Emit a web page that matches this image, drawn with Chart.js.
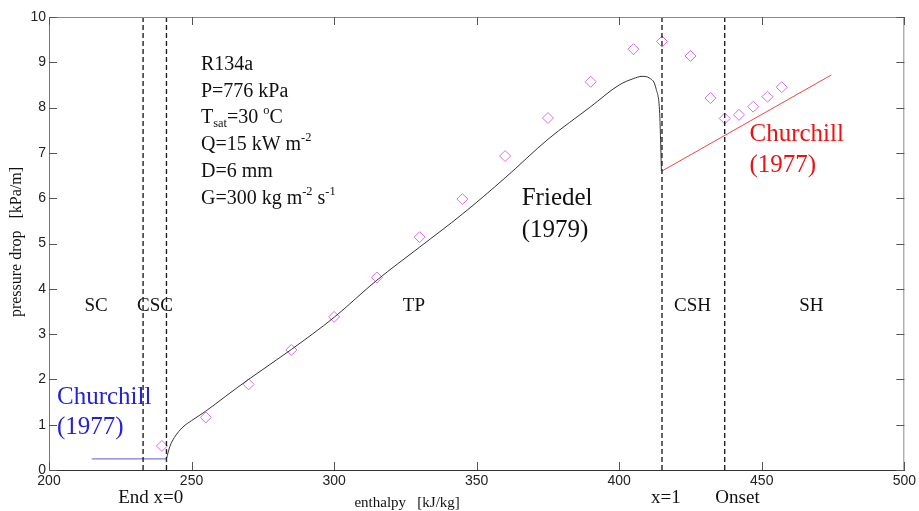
<!DOCTYPE html>
<html>
<head>
<meta charset="utf-8">
<script src="https://cdn.jsdelivr.net/npm/chart.js@4.4.1/dist/chart.umd.min.js"></script>
<style>
  html, body { margin: 0; padding: 0; background: #fff; }
  #wrap { width: 919px; height: 511px; position: relative; }
</style>
</head>
<body>
<div id="wrap"><canvas id="c"></canvas></div>
<script>
// ---------- data ----------
const xTicks = [200, 250, 300, 350, 400, 450, 500];
const yTicks = [0, 1, 2, 3, 4, 5, 6, 7, 8, 9, 10];

// measured points (diamonds)
const expEnthalpy = [239.6, 255, 270, 285, 300, 315, 330, 345, 360, 375, 390, 405, 415, 425, 432, 437, 442, 447, 452, 457];
const expDp       = [0.53, 1.16, 1.89, 2.65, 3.38, 4.25, 5.14, 5.98, 6.93, 7.77, 8.57, 9.29, 9.46, 9.14, 8.21, 7.76, 7.84, 8.02, 8.24, 8.45];

// Friedel (1979) two-phase prediction
const friedelEnthalpy = [241.2, 242.4, 244, 247, 250, 255, 262, 270, 285, 300, 315, 330, 345, 360, 375, 390, 400, 405, 408, 410.7, 413, 414.2, 414.5, 414.8];
const friedelDp       = [0.25, 0.52, 0.72, 0.95, 1.09, 1.3, 1.63, 2.0, 2.66, 3.37, 4.19, 4.92, 5.65, 6.45, 7.3, 8.02, 8.5, 8.64, 8.69, 8.65, 8.4, 7.87, 7.3, 6.6];

// Churchill (1977) single-phase predictions
const churchillLiqEnthalpy = [215, 241.2];
const churchillLiqDp       = [0.245, 0.245];
const churchillVapEnthalpy = [415, 474.4];
const churchillVapDp       = [6.6, 8.72];

// zone boundaries (dashed)
const boundaries = [233, 241.2, 415, 437];

// zone labels
const zoneNames = ["SC", "CSC", "TP", "CSH", "SH"];
const zoneX     = [216.5, 237.2, 328, 425.7, 467.4];
const zoneY     = 3.62;

const pts = (xs, ys) => xs.map((x, i) => ({ x: x, y: ys[i] }));

const datasets = [];
boundaries.forEach(b => {
  datasets.push({
    type: 'line', data: [{ x: b, y: 0 }, { x: b, y: 10 }],
    borderColor: '#222', borderWidth: 1.4, borderDash: [5, 3],
    pointRadius: 0, fill: false
  });
});
datasets.push({
  type: 'line', data: pts(churchillLiqEnthalpy, churchillLiqDp),
  borderColor: '#5b5bd6', borderWidth: 1, pointRadius: 0, fill: false
});
datasets.push({
  type: 'line', data: pts(churchillVapEnthalpy, churchillVapDp),
  borderColor: '#ee4444', borderWidth: 1, pointRadius: 0, fill: false
});
datasets.push({
  type: 'line', data: pts(friedelEnthalpy, friedelDp),
  borderColor: '#333', borderWidth: 1, pointRadius: 0, fill: false,
  cubicInterpolationMode: 'monotone'
});
datasets.push({
  type: 'scatter', data: pts(expEnthalpy, expDp),
  showLine: false, pointStyle: 'rectRot', pointRadius: 5.5,
  pointBorderColor: '#d86aee', pointBackgroundColor: 'rgba(0,0,0,0)', pointBorderWidth: 1
});

// ---------- drawing helpers ----------
const SERIF = '"Liberation Serif", "Times New Roman", serif';

function runs(ctx, x, y, parts, size) {
  let cx = x;
  parts.forEach(([t, m]) => {
    let s = size, dy = 0;
    if (m === 'sub') { s = size * 0.62; dy = size * 0.28; }
    if (m === 'sup') { s = size * 0.62; dy = -size * 0.35; }
    ctx.font = s + 'px ' + SERIF;
    ctx.fillText(t, cx, y + dy);
    cx += ctx.measureText(t).width;
  });
}

const decor = {
  id: 'decor',
  afterDatasetsDraw(chart) {
    const { ctx, chartArea: a, scales } = chart;
    const xs = scales.x, ys = scales.y;
    ctx.save();
    // box top & right
    ctx.strokeStyle = '#8a8a8a'; ctx.lineWidth = 1;
    ctx.beginPath();
    ctx.moveTo(a.left, a.top + 0.5); ctx.lineTo(a.right, a.top + 0.5);
    ctx.moveTo(a.right - 0.5, a.top); ctx.lineTo(a.right - 0.5, a.bottom);
    ctx.stroke();
    // inward ticks
    ctx.strokeStyle = '#555';
    ctx.beginPath();
    xTicks.forEach(v => {
      const px = Math.round(xs.getPixelForValue(v)) + 0.5;
      ctx.moveTo(px, a.bottom); ctx.lineTo(px, a.bottom - 8);
      ctx.moveTo(px, a.top); ctx.lineTo(px, a.top + 8);
    });
    yTicks.forEach(v => {
      const py = Math.round(ys.getPixelForValue(v)) + 0.5;
      ctx.moveTo(a.left, py); ctx.lineTo(a.left + 8, py);
      ctx.moveTo(a.right, py); ctx.lineTo(a.right - 8, py);
    });
    ctx.stroke();

    ctx.fillStyle = '#111';
    ctx.textBaseline = 'middle';
    // zone labels
    ctx.textAlign = 'center';
    ctx.font = '19px ' + SERIF;
    zoneNames.forEach((n, i) => {
      ctx.fillText(n, xs.getPixelForValue(zoneX[i]), ys.getPixelForValue(zoneY));
    });

    // condition block
    ctx.textAlign = 'left';
    const bx = xs.getPixelForValue(253.3);
    const lines = [
      [["R134a", 'n']],
      [["P=776 kPa", 'n']],
      [["T", 'n'], ["sat", 'sub'], ["=30 ", 'n'], ["o", 'sup'], ["C", 'n']],
      [["Q=15 kW m", 'n'], ["-2", 'sup']],
      [["D=6 mm", 'n']],
      [["G=300 kg m", 'n'], ["-2", 'sup'], [" s", 'n'], ["-1", 'sup']]
    ];
    const lineY = [8.94, 8.35, 7.77, 7.17, 6.58, 5.98];
    lines.forEach((p, i) => runs(ctx, bx, ys.getPixelForValue(lineY[i]), p, 20));

    // model labels
    ctx.font = '25px ' + SERIF;
    ctx.fillText('Friedel', xs.getPixelForValue(365.8), ys.getPixelForValue(6.0));
    ctx.fillText('(1979)', xs.getPixelForValue(365.8), ys.getPixelForValue(5.28));
    ctx.fillStyle = '#2222dd';
    ctx.fillText('Churchill', xs.getPixelForValue(202.8), ys.getPixelForValue(1.61));
    ctx.fillText('(1977)', xs.getPixelForValue(202.8), ys.getPixelForValue(0.93));
    ctx.fillStyle = '#ee1111';
    ctx.fillText('Churchill', xs.getPixelForValue(445.7), ys.getPixelForValue(7.4));
    ctx.fillText('(1977)', xs.getPixelForValue(445.7), ys.getPixelForValue(6.73));

    // bottom annotations
    ctx.fillStyle = '#111';
    ctx.textAlign = 'center';
    ctx.font = '19px ' + SERIF;
    ctx.fillText('End x=0', xs.getPixelForValue(235.7), 498);
    ctx.fillText('x=1', xs.getPixelForValue(416.4), 498);
    ctx.fillText('Onset', xs.getPixelForValue(441.5), 498);

    // axis titles
    ctx.font = '15px ' + SERIF;
    ctx.fillText('enthalpy   [kJ/kg]', xs.getPixelForValue(325.6), 503);
    ctx.save();
    ctx.translate(17, 242);
    ctx.rotate(-Math.PI / 2);
    ctx.font = '16px ' + SERIF;
    ctx.fillText('pressure drop   [kPa/m]', 0, 0);
    ctx.restore();

    ctx.restore();
  }
};

new Chart(document.getElementById('c'), {
  data: { datasets: datasets },
  options: {
    responsive: true,
    maintainAspectRatio: false,
    animation: false,
    layout: { padding: { top: 17, right: 14, left: 0, bottom: 0 } },
    plugins: { legend: { display: false }, tooltip: { enabled: false } },
    scales: {
      x: {
        type: 'linear', min: 200, max: 500,
        afterBuildTicks: s => { s.ticks = xTicks.map(v => ({ value: v })); },
        afterFit: s => { s.height = 41; },
        grid: { display: false, drawTicks: false },
        border: { display: true, color: '#333', width: 1 },
        ticks: { padding: 3, color: '#222', font: { family: '"Liberation Sans", Arial, sans-serif', size: 14 } }
      },
      y: {
        type: 'linear', min: 0, max: 10,
        afterBuildTicks: s => { s.ticks = yTicks.map(v => ({ value: v })); },
        afterFit: s => { s.width = 49; },
        grid: { display: false, drawTicks: false },
        border: { display: true, color: '#777', width: 1 },
        ticks: { padding: 3, color: '#222', font: { family: '"Liberation Sans", Arial, sans-serif', size: 14 } }
      }
    }
  },
  plugins: [decor]
});
</script>
</body>
</html>
